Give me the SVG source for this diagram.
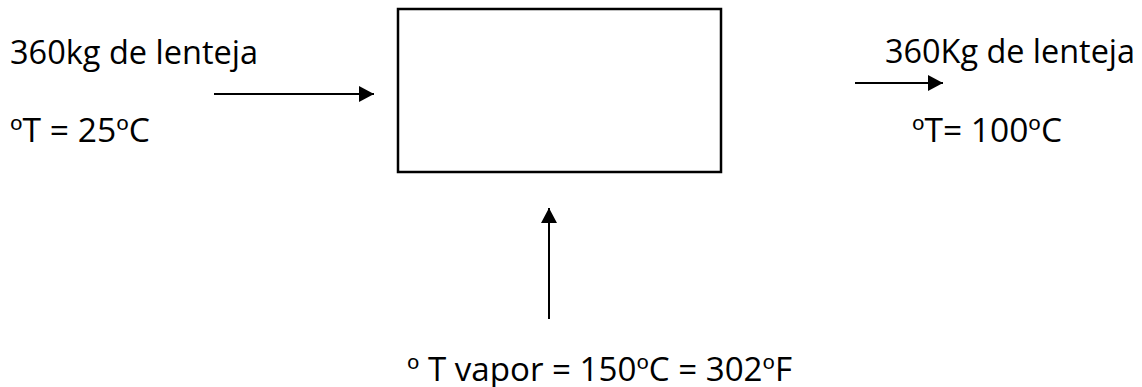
<svg xmlns="http://www.w3.org/2000/svg" width="1142" height="387" viewBox="0 0 1142 387">
<style>
text{font-family:"Open Sans","Noto Sans","Liberation Sans",sans-serif;font-size:32px;fill:#000}
.c{stroke:#000;stroke-width:2;fill:none}
</style>
<defs>
<marker id="ah" markerWidth="16" markerHeight="16" refX="15" refY="8" orient="auto" markerUnits="userSpaceOnUse">
<path d="M0,0 L15,8 L0,16 Z" fill="#000"/>
</marker>
</defs>
<rect width="1142" height="387" fill="#fff"/>
<g id="box"><rect x="398" y="9" width="323" height="163" fill="#fff" stroke="#000" stroke-width="2.5"/></g>
<g id="connectors">
<line class="c" x1="214" y1="94" x2="374" y2="94" marker-end="url(#ah)"/>
<line class="c" x1="855" y1="83" x2="943" y2="83" marker-end="url(#ah)"/>
<line class="c" x1="549" y1="319" x2="549" y2="208" marker-end="url(#ah)"/>
</g>
<g id="input">
<text x="10" y="64" textLength="248" lengthAdjust="spacingAndGlyphs">360kg de lenteja</text>
<text x="10" y="142" textLength="140" lengthAdjust="spacingAndGlyphs">ºT = 25ºC</text>
</g>
<g id="output">
<text x="885" y="63" textLength="250" lengthAdjust="spacingAndGlyphs">360Kg de lenteja</text>
<text x="912" y="142" textLength="150" lengthAdjust="spacingAndGlyphs">ºT= 100ºC</text>
</g>
<g id="steam">
<text x="407" y="381" textLength="385" lengthAdjust="spacingAndGlyphs">º T vapor = 150ºC = 302ºF</text>
</g>
</svg>
